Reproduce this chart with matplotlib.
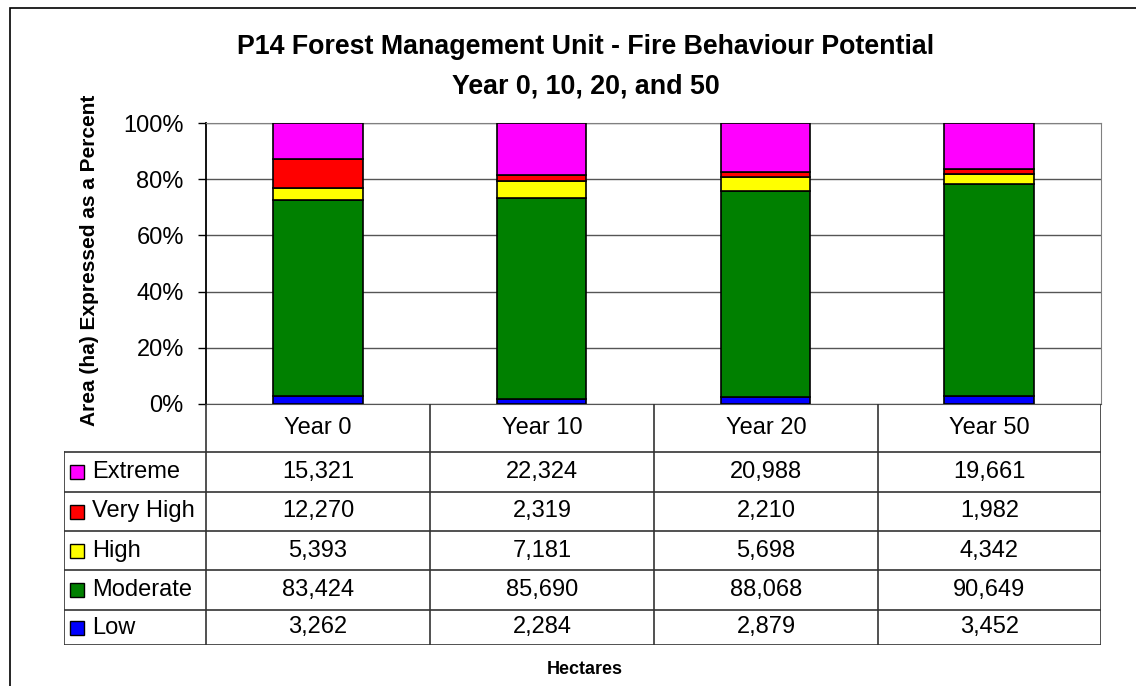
import numpy as np
import matplotlib.pyplot as plt
from matplotlib.patches import Rectangle

plt.rcParams['font.family'] = ['Liberation Sans', 'DejaVu Sans']

years = ['Year 0', 'Year 10', 'Year 20', 'Year 50']
classes = ['Extreme', 'Very High', 'High', 'Moderate', 'Low']
colors = ['#FF00FF', '#FF0000', '#FFFF00', '#008000', '#0000FF']
extreme = [15321, 22324, 20988, 19661]
very_high = [12270, 2319, 2210, 1982]
high = [5393, 7181, 5698, 4342]
moderate = [83424, 85690, 88068, 90649]
low = [3262, 2284, 2879, 3452]

series = [extreme, very_high, high, moderate, low]
W, H = 1136, 686
fs = 17

fig = plt.figure(figsize=(W / 100, H / 100), dpi=100)

# outer frame (runs off the right/bottom edge like the original)
fig.patches.append(Rectangle((10 / W, -0.05), 1.2, 1 - 8 / H + 0.05, transform=fig.transFigure,
                             fill=False, edgecolor='black', linewidth=1.2))

# main plot area
ax = fig.add_axes([206 / W, 1 - 404 / H, (1101 - 206) / W, (404 - 123) / H])
tot = np.sum(np.array(series), axis=0)
x = np.arange(len(years))
bottom = np.zeros(len(years))
for vals, c in zip(series[::-1], colors[::-1]):
    pct = np.array(vals) / tot * 100
    ax.bar(x, pct, 0.4, bottom=bottom, color=c, edgecolor='black', linewidth=1.2, zorder=3)
    bottom += pct

ax.set_xlim(-0.5, 3.5)
ax.set_ylim(0, 100)
ax.set_yticks(np.arange(0, 101, 20))
ax.set_yticklabels(['%d%%' % v for v in range(0, 101, 20)], fontsize=fs)
ax.set_xticks([])
ax.yaxis.grid(True, color='#555555', linewidth=1)
ax.tick_params(axis='y', direction='out', length=6, width=1, pad=10)
for s in ['top', 'right']:
    ax.spines[s].set_color('#808080')
ax.spines['left'].set_linewidth(1.3)
ax.spines['bottom'].set_color('#555555')
ax.set_ylabel('Area (ha) Expressed as a Percent', fontsize=15, fontweight='bold')
ax.yaxis.set_label_coords(-107 / (1101 - 206), 0.51)

# data table under the plot (pixel-like coordinates)
tb = fig.add_axes([64 / W, 1 - 645 / H, (1101 - 64) / W, (645 - 404) / H])
tb.set_xlim(64, 1101)
tb.set_ylim(645, 404)
tb.axis('off')
col_edges = [206, 430, 654, 878, 1101]
row_edges = [452, 492, 531, 570, 610, 645]
lc = '#333333'
for xe in col_edges:
    tb.plot([xe, xe], [404, 645], color=lc, linewidth=1.2)
tb.plot([64, 64], [452, 645], color=lc, linewidth=1.2)
for ye in row_edges:
    tb.plot([64, 1101], [ye, ye], color=lc, linewidth=1.2)
for i, yr in enumerate(years):
    xc = (col_edges[i] + col_edges[i + 1]) / 2
    tb.text(xc, 428, yr, ha='center', va='center', fontsize=fs)
for r, (name, vals, c) in enumerate(zip(classes, series, colors)):
    yc = (row_edges[r] + row_edges[r + 1]) / 2
    tb.add_patch(Rectangle((70, yc - 7), 14, 14, facecolor=c, edgecolor='black', linewidth=1))
    tb.text(92, yc, name, ha='left', va='center', fontsize=fs)
    for i, v in enumerate(vals):
        xc = (col_edges[i] + col_edges[i + 1]) / 2
        tb.text(xc, yc, '{:,}'.format(v), ha='center', va='center', fontsize=fs)

fig.text(586 / W, 1 - 47 / H, 'P14 Forest Management Unit - Fire Behaviour Potential',
         ha='center', va='center', fontsize=19.3, fontweight='bold')
fig.text(586 / W, 1 - 86 / H, 'Year 0, 10, 20, and 50',
         ha='center', va='center', fontsize=19.3, fontweight='bold')
fig.text(585 / W, 1 - 670 / H, 'Hectares', ha='center', va='center', fontsize=13, fontweight='bold')

fig.savefig('out.png', dpi=100)
